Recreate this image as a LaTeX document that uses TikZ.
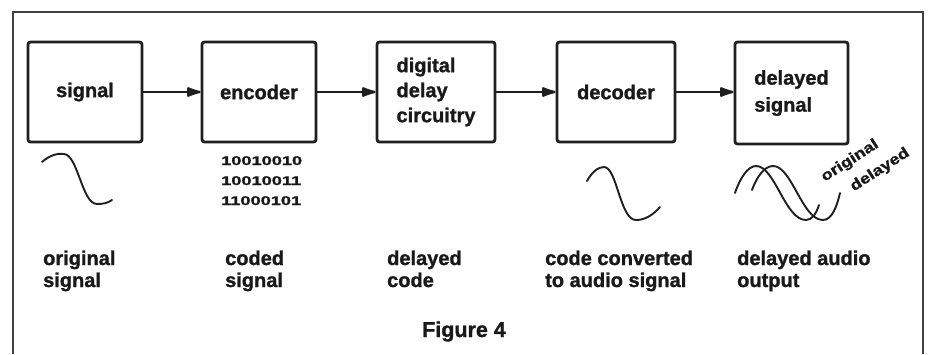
\documentclass[tikz,border=0pt]{standalone}
\usepackage{fontspec}
\usepackage{graphicx}
\setmainfont{Liberation Sans}[BoldFeatures={FakeBold=1.2}]
\usetikzlibrary{arrows.meta}

\begin{document}
\begin{tikzpicture}[x=1pt,y=-1pt,
  blockbox/.style={draw=black!88, line width=2.8pt, rounded corners=2.5pt,
    minimum width=114pt, minimum height=100pt, inner sep=0pt,
    font=\fontsize{20}{25}\selectfont\bfseries, text=black!90},
  flow/.style={draw=black!88, line width=2.2pt,
    -{Latex[length=18pt,width=11pt,round]}},
  caption/.style={anchor=base west, inner sep=0pt, align=left,
    font=\fontsize{20}{22}\selectfont\bfseries, text=black!90},
  wave/.style={draw=black!88, line width=1.9pt, line cap=round},
  tilted/.style={inner sep=0pt, rotate=33,
    font=\fontsize{15}{15}\selectfont\bfseries, text=black!90},
]
\useasboundingbox (0,0) rectangle (929,354);

% outer frame, open at the bottom
\draw[black!75, line width=1.6pt] (13,354) -- (13,12) -- (923,12) -- (923,354);

% signal chain
\node[blockbox] (b1) at (85,92) {signal};
\node[blockbox] (b2) at (259,92) {encoder};
\node[blockbox, minimum width=118pt, align=left] (b3) at (436,92) {digital\\delay\\circuitry};
\node[blockbox, minimum width=118pt] (b4) at (616,92) {decoder};
\node[blockbox, minimum width=113pt, minimum height=102pt, align=left,
  font=\fontsize{20}{27}\selectfont\bfseries] (b5) at (791.5,93) {delayed\\signal};

\draw[flow] (b1.east) -- (b2.west);
\draw[flow] (b2.east) -- (b3.west);
\draw[flow] (b3.east) -- (b4.west);
\draw[flow] (b4.east |- b1.center) -- (b5.west |- b1.center);

% input waveform
\draw[wave] (42,162) .. controls (50,155) and (58,153) .. (64,154)
  .. controls (78,155) and (82,204) .. (97,204)
  .. controls (103,204) and (108,203) .. (112,200);

% binary code words
\node[anchor=north west, align=left, inner sep=0pt,
  font=\fontsize{14}{20}\selectfont\bfseries, text=black!90] (bits)
  at (221,156) {\scalebox{1.3}[0.9]{10010010}\\\scalebox{1.3}[0.9]{10010011}\\\scalebox{1.3}[0.9]{11000101}};

% decoded waveform
\draw[wave] (587,181) .. controls (592,172) and (598,167) .. (604,167)
  .. controls (617,167) and (620,220) .. (636,220)
  .. controls (645,220) and (653,215) .. (660,207);

% original and delayed waveforms
\draw[wave] (735,193) .. controls (740,178) and (748,166) .. (756,166)
  .. controls (775,166) and (785,220) .. (806,220)
  .. controls (812,220) and (816,214) .. (819,205);
\draw[wave] (752,190) .. controls (757,176) and (765,166) .. (773,166)
  .. controls (792,166) and (802,220) .. (823,220)
  .. controls (832,220) and (837,206) .. (840,193);
\node[tilted] (torig) at (850,161) {\scalebox{1.2}[1]{original}};
\node[tilted] (tdel) at (880,170) {\scalebox{1.2}[1]{delayed}};

% stage captions (anchored at the baseline of the second line)
\node[caption] (l1) at (43,287) {original\\signal};
\node[caption] (l2) at (225,287) {coded\\signal};
\node[caption] (l3) at (387,287) {delayed\\code};
\node[caption] (l4) at (545,287) {code converted\\to audio signal};
\node[caption] (l5) at (737,287) {delayed audio\\output};

\node[anchor=base west, inner sep=0pt, font=\fontsize{21.5}{22}\selectfont\bfseries,
  text=black!90] (fig) at (422,337) {Figure 4};
\end{tikzpicture}
\end{document}
